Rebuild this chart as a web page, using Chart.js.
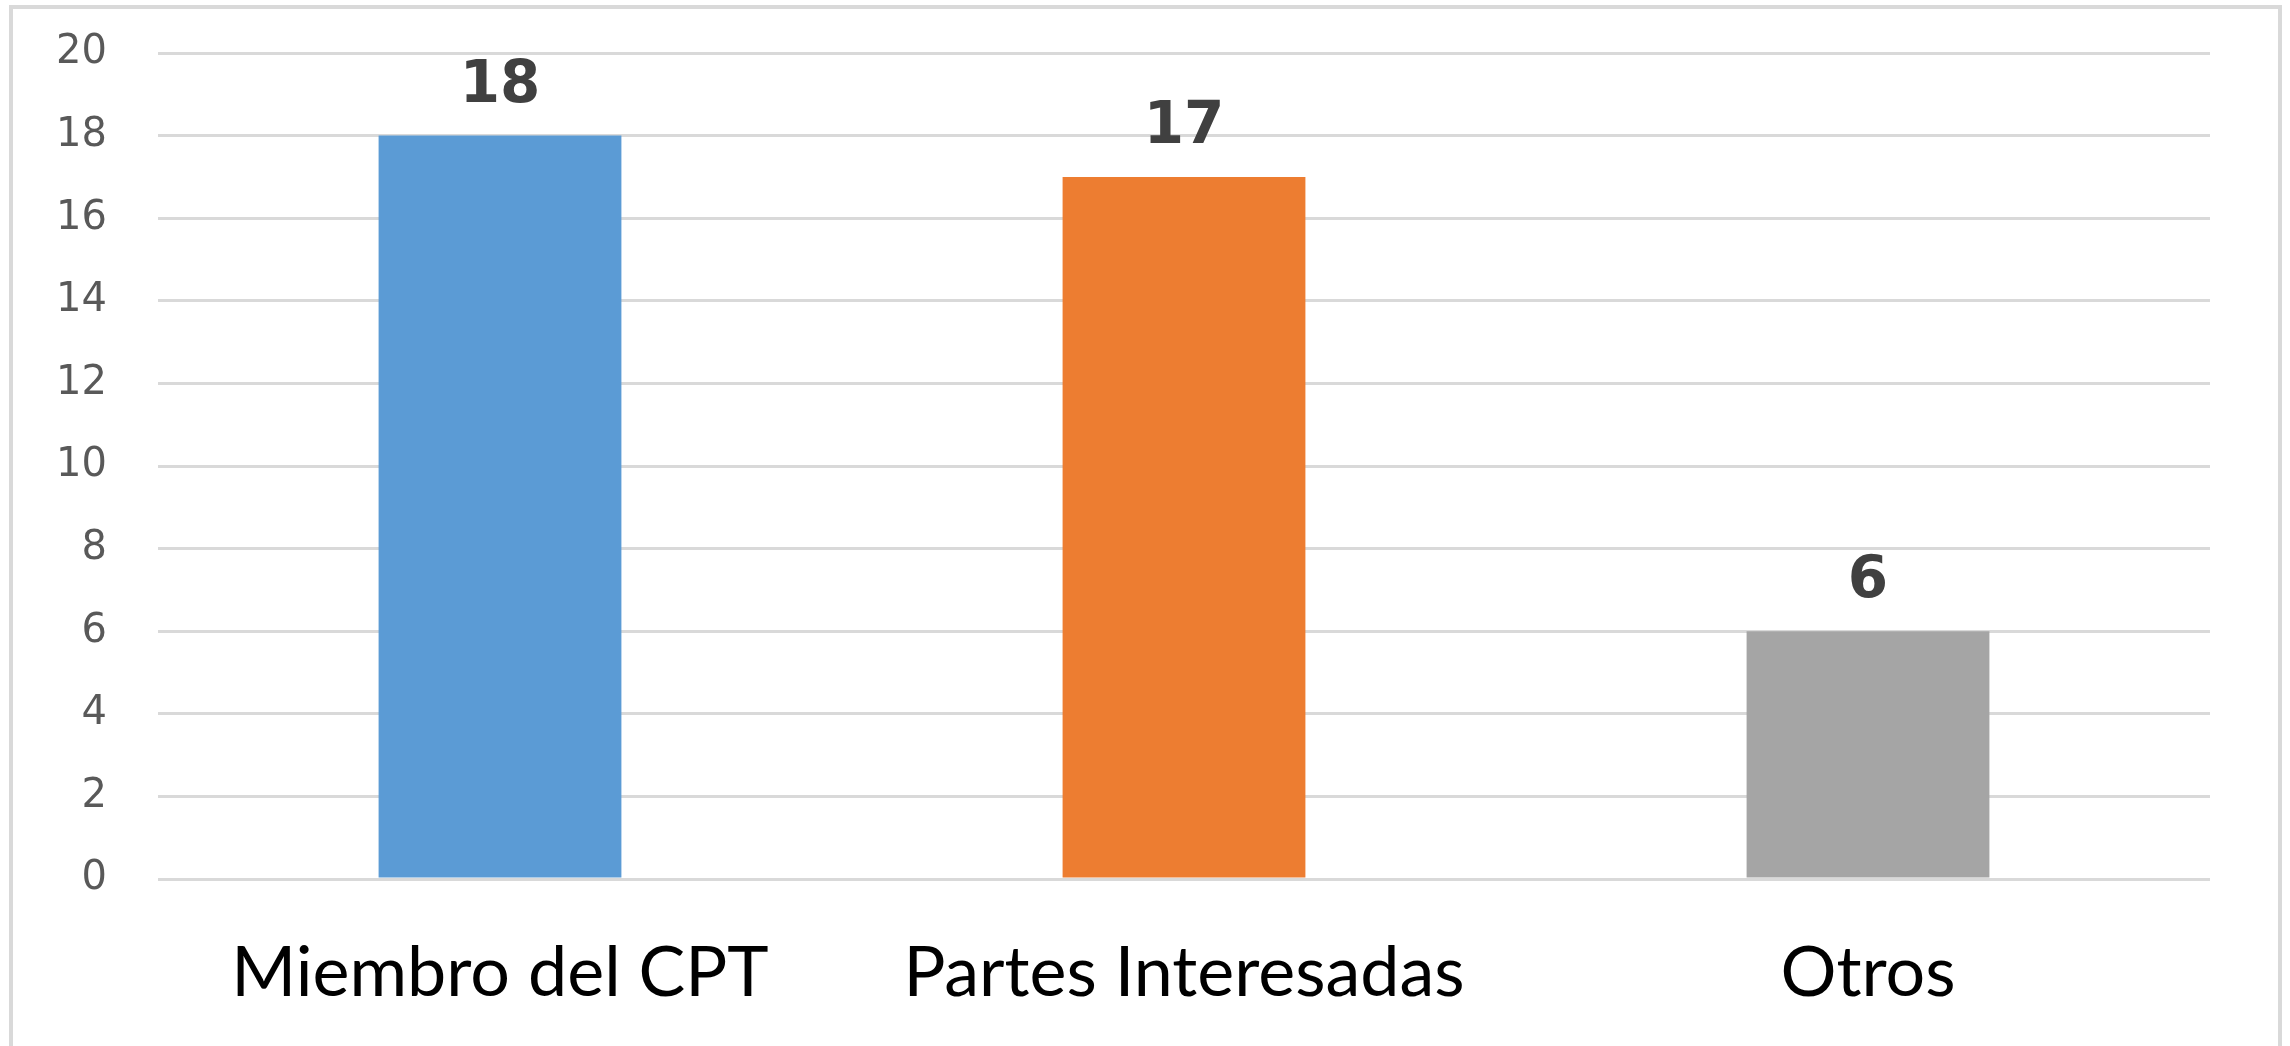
<!DOCTYPE html>
<html lang="es">

<head>
    <meta charset="UTF-8">
    <title>Miembro del CPT / Partes Interesadas / Otros</title>
    <script src="https://cdn.jsdelivr.net/npm/chart.js@4.4.1/dist/chart.umd.min.js"></script>
    <style>
        body { margin: 0; background: #fff; overflow: hidden; }
        .frame {
            position: absolute;
            left: 9px;
            top: 5px;
            width: 2265px;
            height: 1100px;
            border: 4px solid #d9d9d9;
        }
        canvas { position: absolute; left: 0; top: 0; }
    </style>
</head>

<body>
    <div class="frame"></div>
    <canvas id="chart" width="2290" height="1046"></canvas>

    <script>
        const categories = ['Miembro del CPT', 'Partes Interesadas', 'Otros'];
        const values = [18, 17, 6];
        const barColors = ['#5b9bd5', '#ed7d31', '#a5a5a5'];
        const yTicks = { min: 0, max: 20, step: 2 };

        // value labels above each bar (no datalabels plugin available offline)
        const barLabels = {
            id: 'barLabels',
            afterDatasetsDraw(chart) {
                const ctx = chart.ctx;
                const meta = chart.getDatasetMeta(0);
                ctx.save();
                ctx.font = 'bold 58px "DejaVu Sans"';
                ctx.fillStyle = '#404040';
                ctx.textAlign = 'center';
                ctx.textBaseline = 'alphabetic';
                meta.data.forEach((bar, i) => {
                    ctx.fillText(String(values[i]), bar.x, bar.y - 34);
                });
                ctx.restore();
            }
        };

        new Chart(document.getElementById('chart'), {
            type: 'bar',
            data: {
                labels: categories,
                datasets: [{
                    data: values,
                    backgroundColor: barColors,
                    borderWidth: 0,
                    categoryPercentage: 1,
                    barPercentage: 0.355
                }]
            },
            options: {
                responsive: false,
                animation: false,
                layout: {
                    padding: { top: 53, right: 80, left: 0, bottom: 0 }
                },
                scales: {
                    x: {
                        grid: { display: false },
                        border: { display: false },
                        ticks: {
                            color: '#000',
                            padding: 44,
                            maxRotation: 0,
                            font: { family: 'Lato', size: 70 }
                        },
                        afterFit(scale) { scale.height = 167; }
                    },
                    y: {
                        min: yTicks.min,
                        max: yTicks.max,
                        grid: { color: '#d9d9d9', lineWidth: 3, drawTicks: false },
                        border: { display: false },
                        ticks: {
                            stepSize: yTicks.step,
                            color: '#595959',
                            padding: 51,
                            font: { family: 'DejaVu Sans', size: 40 }
                        },
                        afterFit(scale) {
                            scale.width = 158;
                            // tick padding would otherwise push the plot top down
                            scale.paddingTop = 0;
                            scale.paddingBottom = 0;
                        }
                    }
                },
                plugins: {
                    legend: { display: false },
                    tooltip: { enabled: false }
                }
            },
            plugins: [barLabels]
        });
    </script>
</body>

</html>
